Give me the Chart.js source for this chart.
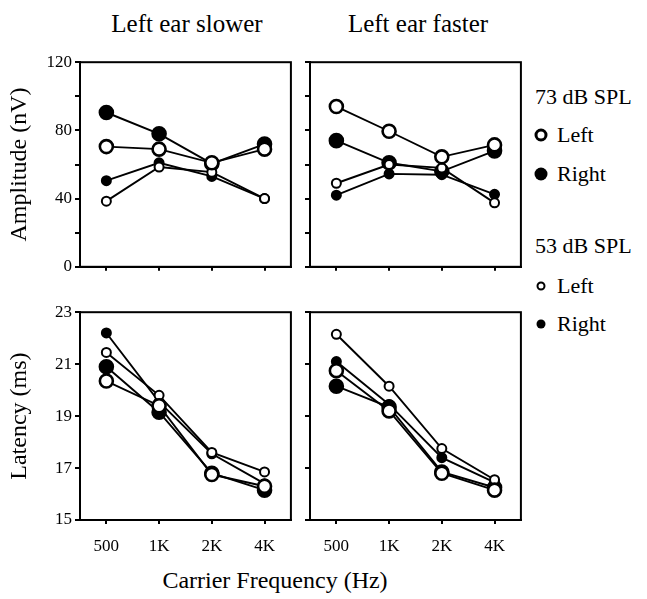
<!DOCTYPE html>
<html>
<head>
<meta charset="utf-8">
<script src="https://cdn.jsdelivr.net/npm/chart.js@4/dist/chart.umd.min.js"></script>
<style>
  body { margin: 0; background: #fff; }
  #page { position: relative; width: 647px; height: 599px; overflow: hidden; font-family: "Liberation Serif", "Times New Roman", serif; color: #000; }
  canvas { position: absolute; }
  .txt { position: absolute; white-space: nowrap; transform: translate(-50%, -50%); line-height: 1; }
  .leg { position: absolute; white-space: nowrap; transform: translateY(-50%); line-height: 1; font-size: 22px; }
  .dot { position: absolute; border-radius: 50%; box-sizing: border-box; transform: translate(-50%, -50%); }
</style>
</head>
<body>
<div id="page">
  <div class="txt" style="left:187px;top:23px;font-size:25px">Left ear slower</div>
  <div class="txt" style="left:418px;top:23px;font-size:25px">Left ear faster</div>
  <div class="txt" style="left:275px;top:580px;font-size:24px">Carrier Frequency (Hz)</div>

  <div class="leg" style="left:535px;top:97px">73 dB SPL</div>
  <div class="dot" style="left:541px;top:135px;width:13px;height:13px;border:3px solid #000;background:#fff"></div>
  <div class="leg" style="left:557px;top:135px">Left</div>
  <div class="dot" style="left:541px;top:174px;width:13px;height:13px;background:#000"></div>
  <div class="leg" style="left:557px;top:174px">Right</div>

  <div class="leg" style="left:535px;top:246px">53 dB SPL</div>
  <div class="dot" style="left:541px;top:286px;width:9px;height:9px;border:2px solid #000;background:#fff"></div>
  <div class="leg" style="left:557px;top:286px">Left</div>
  <div class="dot" style="left:541px;top:324px;width:9px;height:9px;background:#000"></div>
  <div class="leg" style="left:557px;top:324px">Right</div>

  <canvas id="ampSlower" width="300" height="231" style="left:0;top:49px"></canvas>
  <canvas id="ampFaster" width="240" height="231" style="left:290px;top:49px"></canvas>
  <canvas id="latSlower" width="300" height="266" style="left:0;top:299px"></canvas>
  <canvas id="latFaster" width="240" height="266" style="left:290px;top:299px"></canvas>
</div>
<script>
// carrier frequencies
const categories = ['500', '1K', '2K', '4K'];

// amplitude (nV), left ear slower
const ampSlowerLeft73 = [70.5, 69, 61, 69];
const ampSlowerRight73 = [90.5, 78, 60.5, 72];
const ampSlowerLeft53 = [38.5, 58.5, 55.5, 40];
const ampSlowerRight53 = [50.5, 61, 53, 40];

// amplitude (nV), left ear faster
const ampFasterLeft73 = [94, 79.5, 64.5, 71.5];
const ampFasterRight73 = [74, 61, 56, 68];
const ampFasterLeft53 = [49, 60, 58, 37.5];
const ampFasterRight53 = [42, 54.5, 54, 42.5];

// latency (ms), left ear slower
const latSlowerLeft73 = [20.35, 19.4, 16.75, 16.3];
const latSlowerRight73 = [20.9, 19.15, 16.8, 16.15];
const latSlowerLeft53 = [21.45, 19.8, 17.6, 16.85];
const latSlowerRight53 = [22.2, 19.55, 17.55, 16.4];

// latency (ms), left ear faster
const latFasterLeft73 = [20.75, 19.2, 16.8, 16.15];
const latFasterRight73 = [20.15, 19.35, 16.85, 16.25];
const latFasterLeft53 = [22.15, 20.15, 17.75, 16.55];
const latFasterRight53 = [21.1, 19.45, 17.4, 16.45];

// y axis tick labels
const ampTicks = [0, 40, 80, 120];
const latTicks = [15, 17, 19, 21, 23];

Chart.defaults.font.family = '"Liberation Serif", "Times New Roman", serif';
Chart.defaults.color = '#000';

const framePlugin = {
  id: 'frame',
  beforeDatasetsDraw(chart) {
    const { ctx, chartArea: { left, top, right, bottom } } = chart;
    ctx.save();
    ctx.strokeStyle = '#000';
    ctx.lineWidth = 2;
    ctx.strokeRect(left, top, right - left, bottom - top);
    ctx.restore();
  }
};

function series(data, big, filled) {
  return {
    data,
    borderColor: '#000',
    borderWidth: 1.9,
    pointRadius: big ? 6.5 : 4.5,
    pointBorderWidth: big ? 2.6 : 2,
    pointBackgroundColor: filled ? '#000' : '#fff',
    pointBorderColor: '#000',
    tension: 0,
    clip: false
  };
}

function makePanel(id, sets, opts) {
  const ctx = document.getElementById(id).getContext('2d');
  new Chart(ctx, {
    type: 'line',
    data: {
      labels: categories,
      // first dataset is drawn on top
      datasets: [
        series(sets.left73, true, false),
        series(sets.left53, false, false),
        series(sets.right73, true, true),
        series(sets.right53, false, true)
      ]
    },
    options: {
      responsive: false,
      animation: false,
      events: [],
      layout: { padding: { top: 10, right: 7, left: 0, bottom: 0 } },
      plugins: { legend: { display: false }, tooltip: { enabled: false } },
      scales: {
        x: {
          offset: true,
          afterFit: (s) => { s.height = opts.xHeight; },
          grid: { offset: false, drawOnChartArea: false, drawTicks: true, tickLength: 4, color: '#000', lineWidth: 2 },
          border: { display: true, color: '#000', width: 2 },
          ticks: {
            padding: 12,
            font: { size: 17 },
            callback: (v, i) => opts.xLabels ? categories[i] : ''
          }
        },
        y: {
          min: opts.min,
          max: opts.max,
          afterFit: (s) => { s.width = opts.yWidth; },
          grid: { drawOnChartArea: false, drawTicks: true, tickLength: 5, color: '#000', lineWidth: 2 },
          border: { display: true, color: '#000', width: 2 },
          ticks: {
            stepSize: opts.step,
            padding: 3,
            font: { size: 17 },
            callback: (v) => opts.yLabels && opts.labelTicks.includes(v) ? String(v) : ''
          },
          title: {
            display: !!opts.yTitle,
            text: opts.yTitle || '',
            font: { size: 24 },
            color: '#000',
            padding: { top: 5, bottom: 0 }
          }
        }
      }
    },
    plugins: [framePlugin]
  });
}

makePanel('ampSlower',
  { left73: ampSlowerLeft73, right73: ampSlowerRight73, left53: ampSlowerLeft53, right53: ampSlowerRight53 },
  { min: 0, max: 120, step: 20, labelTicks: ampTicks, yLabels: true, xLabels: false, yWidth: 80, xHeight: 10, yTitle: 'Amplitude (nV)' });

makePanel('ampFaster',
  { left73: ampFasterLeft73, right73: ampFasterRight73, left53: ampFasterLeft53, right53: ampFasterRight53 },
  { min: 0, max: 120, step: 20, labelTicks: ampTicks, yLabels: false, xLabels: false, yWidth: 20, xHeight: 10 });

makePanel('latSlower',
  { left73: latSlowerLeft73, right73: latSlowerRight73, left53: latSlowerLeft53, right53: latSlowerRight53 },
  { min: 15, max: 23, step: 2, labelTicks: latTicks, yLabels: true, xLabels: true, yWidth: 80, xHeight: 45, yTitle: 'Latency (ms)' });

makePanel('latFaster',
  { left73: latFasterLeft73, right73: latFasterRight73, left53: latFasterLeft53, right53: latFasterRight53 },
  { min: 15, max: 23, step: 2, labelTicks: latTicks, yLabels: false, xLabels: true, yWidth: 20, xHeight: 45 });
</script>
</body>
</html>
